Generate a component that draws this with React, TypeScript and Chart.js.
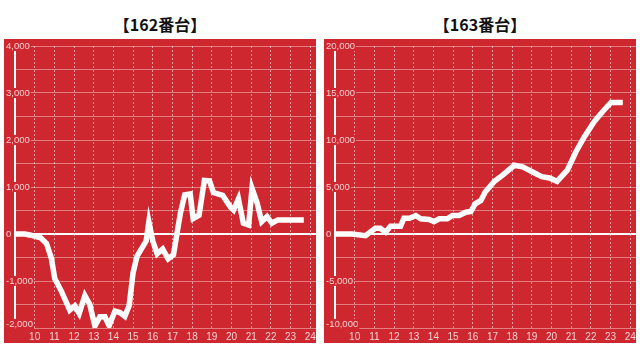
import React, { useEffect, useRef } from 'react';
import { Chart, registerables } from 'chart.js';

Chart.register(...registerables);

const RED = '#CF2730';
const LABEL_COLOR = '#F8D2D4';
const FONT_FAMILY = '"Liberation Sans", Arial, sans-serif';

// 162番台: time (hour) and cumulative value
const hours162 = [
  9.0, 9.5, 9.75, 10.3, 10.6, 10.85, 11.02, 11.36, 11.78, 12.04, 12.26, 12.55, 12.8,
  13.06, 13.31, 13.57, 13.78, 14.08, 14.33, 14.58, 14.8, 15.0, 15.2, 15.49, 15.66,
  15.8, 16.0, 16.22, 16.5, 16.78, 17.05, 17.4, 17.62, 17.9, 18.05, 18.35, 18.62,
  18.88, 19.08, 19.55, 19.95, 20.1, 20.35, 20.6, 20.87, 21.04, 21.3, 21.53, 21.8,
  22.05, 22.35, 23.67,
];
const values162 = [
  0, 0, -20, -80, -200, -520, -950, -1220, -1620, -1530, -1690, -1310, -1500,
  -1960, -1760, -1760, -1950, -1640, -1670, -1750, -1520, -820, -470, -270, -150,
  260, -150, -420, -320, -530, -440, 440, 830, 850, 330, 400, 1140,
  1130, 880, 820, 570, 510, 750, 230, 190, 970, 660, 260, 370,
  230, 300, 300,
];

// 163番台
const hours163 = [
  9.0, 9.86, 10.55, 11.05, 11.3, 11.57, 11.82, 12.33, 12.5, 12.79, 13.1, 13.35,
  13.78, 14.03, 14.29, 14.71, 14.96, 15.3, 15.65, 15.9, 16.12, 16.41, 16.63, 17.1,
  17.5, 18.11, 18.53, 19.04, 19.5, 19.89, 20.28, 20.8, 21.24, 21.67, 22.17, 22.6,
  23.02, 23.62,
];
const values163 = [
  0, 0, -180, 610, 610, 180, 820, 820, 1680, 1680, 1960, 1610,
  1540, 1320, 1610, 1610, 1960, 1960, 2320, 2390, 3210, 3570, 4470, 5620,
  6240, 7310, 7140, 6600, 6100, 5960, 5600, 6800, 8750, 10350, 11960, 13030,
  14000, 14000,
];

const xTickHours = [10, 11, 12, 13, 14, 15, 16, 17, 18, 19, 20, 21, 22, 23, 24];
const yTicks162 = [-2000, -1500, -1000, -500, 0, 500, 1000, 1500, 2000, 2500, 3000, 3500, 4000];
const yTicks163 = [-10000, -7500, -5000, -2500, 0, 2500, 5000, 7500, 10000, 12500, 15000, 17500, 20000];

const X_MIN = 9;
const X_MAX = 24.29;

type PanelProps = {
  title: string;
  hours: number[];
  values: number[];
  yTicks: number[];
  labelStep: number;
  left: number;
};

// Draws y tick labels with a red backdrop, keeping the lowest label inside the plot.
const yLabelPlugin = {
  id: 'yLabels',
  beforeDatasetsDraw(chart: any, _args: any, opts: any) {
    const scale = chart.scales.y;
    const area = chart.chartArea;
    const ctx = chart.ctx;
    ctx.save();
    ctx.font = `9.5px ${FONT_FAMILY}`;
    ctx.textAlign = 'left';
    ctx.textBaseline = 'middle';
    for (const t of scale.ticks) {
      const v = t.value;
      if (v % opts.step !== 0) continue;
      const label = Number(v).toLocaleString('en-US');
      let y = scale.getPixelForValue(v);
      y = Math.min(y, area.bottom - 4);
      const w = ctx.measureText(label).width;
      const x = 2;
      ctx.fillStyle = RED;
      ctx.fillRect(x - 1, y - 5, w + 2, 10);
      ctx.fillStyle = LABEL_COLOR;
      ctx.fillText(label, x, y);
    }
    ctx.restore();
  },
};

function Panel({ title, hours, values, yTicks, labelStep, left }: PanelProps) {
  const ref = useRef<HTMLCanvasElement | null>(null);

  useEffect(() => {
    if (!ref.current) return;
    const chart = new Chart(ref.current, {
      type: 'line',
      data: {
        datasets: [
          {
            data: hours.map((h, i) => ({ x: h, y: values[i] })),
            borderColor: '#FFFFFF',
            borderWidth: 5.5,
            pointRadius: 0,
            tension: 0,
            fill: false,
          },
        ],
      },
      plugins: [yLabelPlugin],
      options: {
        animation: false,
        responsive: false,
        maintainAspectRatio: false,
        layout: { padding: { top: 7, left: 0, right: 0, bottom: 0 } },
        plugins: {
          legend: { display: false },
          tooltip: { enabled: false },
          yLabels: { step: labelStep },
        },
        scales: {
          x: {
            type: 'linear',
            min: X_MIN,
            max: X_MAX,
            afterBuildTicks: (s: any) => {
              s.ticks = xTickHours.map((v) => ({ value: v }));
            },
            afterFit: (s: any) => {
              s.height = 15;
              s.paddingLeft = 0;
              s.paddingRight = 0;
            },
            ticks: {
              autoSkip: false,
              maxRotation: 0,
              padding: 3,
              color: LABEL_COLOR,
              font: { size: 10, family: FONT_FAMILY },
              callback: (v: any) => String(v),
            },
            grid: {
              color: 'rgba(255,255,255,0.55)',
              lineWidth: 1,
              drawTicks: false,
            },
            border: { display: false, dash: [2, 2] },
          },
          y: {
            type: 'linear',
            min: yTicks[0],
            max: yTicks[yTicks.length - 1],
            afterBuildTicks: (s: any) => {
              s.ticks = yTicks.map((v) => ({ value: v }));
            },
            afterFit: (s: any) => {
              s.width = 11;
              s.paddingTop = 0;
              s.paddingBottom = 0;
            },
            ticks: { display: false },
            grid: {
              color: (ctx: any) =>
                ctx.tick && ctx.tick.value === 0 ? '#FFFFFF' : 'rgba(255,255,255,0.4)',
              lineWidth: (ctx: any) => (ctx.tick && ctx.tick.value === 0 ? 2 : 1),
              drawTicks: false,
            },
            border: { display: true, color: '#FFFFFF', width: 2 },
          },
        },
      } as any,
    });
    return () => chart.destroy();
  }, [hours, values, yTicks, labelStep]);

  return (
    <div style={{ position: 'absolute', left, top: 0, width: 320, height: 352 }}>
      <div
        style={{
          position: 'absolute',
          left: 0,
          top: 14,
          width: 320,
          height: 20,
          lineHeight: '20px',
          textAlign: 'center',
          fontFamily: '"Noto Sans CJK JP", "Noto Sans", sans-serif',
          fontWeight: 700,
          fontSize: 16,
          color: '#111111',
        }}
      >
        {title}
      </div>
      <div
        style={{
          position: 'absolute',
          left: 4,
          top: 39,
          width: 312,
          height: 304,
          background: RED,
        }}
      >
        <canvas ref={ref} width={312} height={304} style={{ display: 'block' }} />
      </div>
    </div>
  );
}

export default function App() {
  return (
    <div
      style={{
        position: 'fixed',
        left: 0,
        top: 0,
        width: 640,
        height: 352,
        background: '#FFFFFF',
        overflow: 'hidden',
      }}
    >
      <Panel title="【162番台】" hours={hours162} values={values162} yTicks={yTicks162} labelStep={1000} left={0} />
      <Panel title="【163番台】" hours={hours163} values={values163} yTicks={yTicks163} labelStep={5000} left={320} />
    </div>
  );
}
